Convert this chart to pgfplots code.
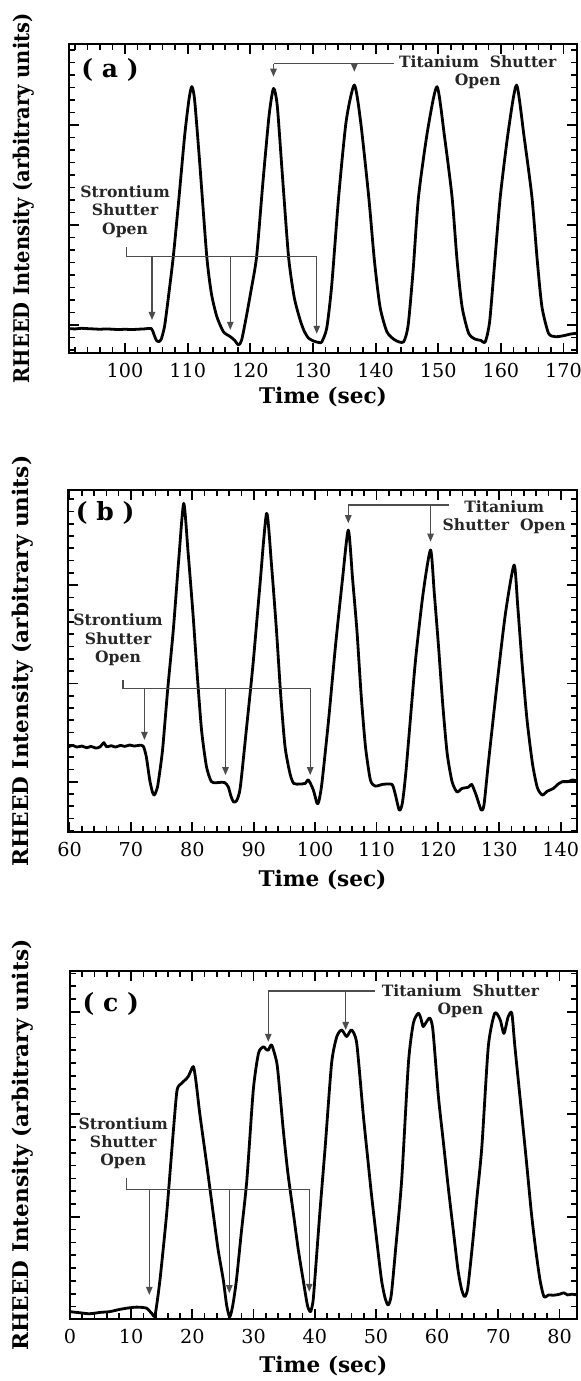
\documentclass[border=0pt]{standalone}
\usepackage{fontspec}
\setmainfont{DejaVu Serif}
\usepackage{pgfplots}
\pgfplotsset{compat=1.18}
\usetikzlibrary{arrows.meta}

\pgfplotsset{
  rheed/.style={
    scale only axis, clip=false,
    ymin=0, ymax=1,
    axis line style={line width=1pt},
    tick align=inside, tick pos=both,
    major tick length=5pt, minor tick length=3pt,
    every major tick/.style={line width=0.9pt, black},
    every minor tick/.style={line width=0.85pt, black},
    minor x tick num=4,
    yticklabels={},
    xtick distance=10,
    extra y tick labels={},
    extra y tick style={major tick length=3pt, every major tick/.style={line width=0.85pt, black}},
    /pgf/number format/assume math mode=true,
    xticklabel style={font=\fontsize{9.6}{11}\selectfont, yshift=-1.5pt},
    xlabel={Time (sec)},
    ylabel={RHEED Intensity (arbitrary units)},
    label style={font=\fontsize{10.8}{12}\selectfont\bfseries},
    ylabel style={anchor=center},
    xlabel style={anchor=center},
  },
  curve/.style={black, line width=1.4pt, line join=round, smooth, tension=0.4},
}
\tikzset{
  anno/.style={draw=black!70, line width=0.65pt},
  arr/.style={anno, -{Triangle[length=4pt,width=3.2pt]}},
  note/.style={font=\fontsize{7.8}{9.2}\selectfont\bfseries, align=center, text=black!85, inner sep=0pt},
  panel/.style={font=\fontsize{12.5}{13}\selectfont\bfseries, inner sep=0pt},
}

\begin{document}
\begin{tikzpicture}
\path[use as bounding box] (0,0) rectangle (290pt,-690.5pt);

% ---------------- (a)
\begin{axis}[rheed,
  at={(34.65pt,-176.35pt)}, anchor=south west,
  width=253.7pt, height=154.35pt,
  xmin=91.1, xmax=172.1,
  ytick={0.09,0.414,0.738},
  extra y ticks={0.009,0.0495,0.1305,0.171,0.2115,0.252,0.2925,0.333,0.3735,0.4545,0.495,
    0.5355,0.576,0.6165,0.657,0.6975,0.7785,0.819,0.8595,0.9,0.9405,0.981},
  ylabel style={at={(axis description cs:-0.0897,0.5)}, xscale=0.9},
  xlabel style={at={(axis description cs:0.5,0)}, yshift=-22pt},
]
\addplot[curve] coordinates {
  (91.2,0.078) (92,0.077) (93,0.079) (94,0.078) (95,0.077) (96,0.076) (97,0.077)
  (98,0.076) (99,0.075) (100,0.076) (101,0.075) (102,0.076) (103,0.077) (104.2,0.078)
  (104.6,0.06) (105.0,0.04) (105.4,0.036) (105.8,0.045) (106.3,0.085)
  (106.8,0.16) (107.7,0.311) (108.6,0.50) (109.5,0.70) (110.2,0.82) (110.65,0.862)
  (111.1,0.82) (111.9,0.62) (113.05,0.311) (113.8,0.19) (114.65,0.117) (115.7,0.068)
  (116.8,0.052) (117.5,0.04) (118.1,0.025)
  (118.6,0.04) (119.3,0.11) (120.1,0.20) (121.0,0.311) (122,0.55) (123.0,0.77) (123.7,0.856)
  (124.3,0.80) (125.1,0.58) (126.1,0.311) (127.0,0.18) (127.95,0.106) (128.6,0.07)
  (129.3,0.047) (130.2,0.037) (131.0,0.033) (131.4,0.035)
  (132.2,0.08) (133.0,0.22) (134.1,0.505) (135.3,0.75) (136.6,0.867)
  (137.6,0.75) (138.9,0.505) (139.8,0.30) (140.7,0.149) (141.8,0.068) (143.1,0.041) (144.45,0.035)
  (145.2,0.09) (146.0,0.27) (146.85,0.505) (148.3,0.72) (149.8,0.862)
  (151.0,0.70) (152.2,0.505) (153.0,0.30) (153.8,0.149) (154.85,0.063) (155.9,0.044)
  (156.8,0.04) (157.5,0.035)
  (158.2,0.10) (159.0,0.29) (159.9,0.505) (161.2,0.72) (162.5,0.867)
  (163.7,0.70) (164.95,0.505) (165.8,0.30) (166.55,0.149) (167.6,0.063) (168.7,0.052)
  (170,0.055) (171,0.06) (172.1,0.063)
};
\node[panel] at (axis cs:97.6,0.916) {( a )};
\node[note] at (axis cs:100.0,0.457) {Strontium\\Shutter\\Open};
\draw[anno] (axis cs:100.2,0.343) -- (axis cs:100.2,0.311) -- (axis cs:130.6,0.311);
\draw[arr] (axis cs:104.3,0.311) -- (axis cs:104.3,0.106);
\draw[arr] (axis cs:116.8,0.311) -- (axis cs:116.8,0.074);
\draw[arr] (axis cs:130.6,0.311) -- (axis cs:130.6,0.061);
\draw[anno] (axis cs:123.7,0.936) -- (axis cs:142.9,0.936);
\draw[arr] (axis cs:123.7,0.936) -- (axis cs:123.7,0.894);
\draw[arr] (axis cs:136.6,0.936) -- (axis cs:136.6,0.91);
\node[note] at (axis cs:156.3,0.908) {Titanium\ \ Shutter\\Open};
\end{axis}

% ---------------- (b)
\begin{axis}[rheed,
  at={(34.15pt,-416.15pt)}, anchor=south west,
  width=254.2pt, height=171.15pt,
  xmin=59.8, xmax=142.6,
  ytick={0.148,0.435,0.722},
  extra y ticks={0.0045,0.0404,0.0763,0.1121,0.1839,0.2198,0.2556,0.2915,0.3274,0.3633,
    0.3991,0.4709,0.5068,0.5426,0.5785,0.6144,0.6503,0.6861,0.7579,0.7938,0.8296,0.8655,
    0.9014,0.9373,0.9731},
  ylabel style={at={(axis description cs:-0.0895,0.5)}},
  xlabel style={at={(axis description cs:0.5,0)}, yshift=-24pt},
]
\addplot[curve] coordinates {
  (59.8,0.250) (60.5,0.254) (61.2,0.249) (62,0.252) (62.8,0.247) (63.5,0.251) (64.3,0.246)
  (65,0.250) (65.6,0.262) (66,0.250) (66.8,0.253) (67.5,0.249) (68.3,0.254) (69,0.251)
  (69.8,0.255) (70.5,0.252) (71.3,0.254) (72.0,0.252)
  (72.5,0.221) (73.06,0.153) (73.5,0.118) (73.8,0.109) (74.3,0.13) (74.8,0.19) (75.2,0.25)
  (76.0,0.42) (76.9,0.591) (77.8,0.80) (78.6,0.961)
  (79.3,0.82) (80.1,0.64) (80.8,0.46) (81.5,0.299) (82.3,0.192) (83.1,0.148) (83.95,0.145)
  (84.6,0.146) (85.3,0.145) (85.85,0.133) (86.3,0.105) (86.7,0.089) (87.2,0.092)
  (87.8,0.13) (88.8,0.30) (89.9,0.494) (91.0,0.72) (92.1,0.932)
  (92.9,0.78) (93.7,0.591) (94.4,0.40) (95.1,0.25) (95.9,0.172) (96.5,0.143) (97.5,0.141)
  (98.4,0.143) (98.9,0.153) (99.7,0.124) (100.3,0.085) (100.6,0.09)
  (101.1,0.143) (102.2,0.33) (103.3,0.542) (104.4,0.73) (105.4,0.883)
  (106.1,0.74) (106.8,0.591) (107.5,0.40) (108.2,0.25) (109.0,0.153) (109.8,0.135) (111,0.14)
  (112.5,0.14) (113.0,0.115) (113.7,0.065) (114.2,0.085)
  (114.8,0.18) (116.3,0.494) (117.6,0.70) (118.8,0.825)
  (119.4,0.70) (120.1,0.542) (120.8,0.37) (121.5,0.231) (122.3,0.148) (123.1,0.118)
  (123.9,0.128) (125.0,0.132) (125.5,0.14) (126.2,0.11) (127.05,0.065) (127.5,0.08)
  (128.2,0.20) (129.7,0.445) (131.0,0.64) (132.4,0.781)
  (133.0,0.66) (133.7,0.494) (134.5,0.33) (135.4,0.20) (136.2,0.13) (137.0,0.109)
  (137.8,0.12) (138.8,0.128) (139.5,0.14) (140.3,0.148) (141.2,0.148) (141.9,0.153) (142.6,0.15)
};
\node[panel] at (axis cs:65.8,0.932) {( b )};
\node[note] at (axis cs:67.9,0.562) {Strontium\\Shutter\\Open};
\draw[anno] (axis cs:68.7,0.445) -- (axis cs:68.7,0.421) -- (axis cs:99.2,0.421);
\draw[arr] (axis cs:72.2,0.421) -- (axis cs:72.2,0.27);
\draw[arr] (axis cs:85.4,0.421) -- (axis cs:85.4,0.167);
\draw[arr] (axis cs:99.2,0.421) -- (axis cs:99.2,0.167);
\draw[anno] (axis cs:105.4,0.956) -- (axis cs:121.8,0.956);
\draw[arr] (axis cs:105.4,0.956) -- (axis cs:105.4,0.903);
\draw[arr] (axis cs:118.8,0.956) -- (axis cs:118.8,0.849);
\node[note] at (axis cs:130.8,0.92) {Titanium\\Shutter\ \ Open};
\end{axis}

% ---------------- (c)
\begin{axis}[rheed,
  at={(35pt,-659.65pt)}, anchor=south west,
  width=253.35pt, height=174.3pt,
  xmin=0, xmax=82.8,
  ytick={0,0.294,0.588,0.882},
  extra y ticks={0.0368,0.0735,0.1103,0.147,0.1838,0.2205,0.2573,0.3308,0.3675,0.4043,
    0.441,0.4778,0.5145,0.5513,0.6248,0.6615,0.6983,0.735,0.7718,0.8085,0.8453,0.9188,
    0.9555,0.9923},
  ylabel style={at={(axis description cs:-0.0928,0.5)}},
  xlabel style={at={(axis description cs:0.5,0)}, yshift=-23.5pt},
]
\addplot[curve] coordinates {
  (0,0.022) (1,0.02) (2,0.018) (3,0.016) (3.8,0.017) (5,0.02) (6.5,0.022) (8,0.028)
  (9.3,0.032) (10.9,0.035) (12.5,0.032) (13.35,0.017) (13.9,0.012)
  (14.7,0.113) (15.8,0.304) (16.9,0.543) (17.5,0.658) (18.25,0.677) (19.3,0.696) (20.15,0.725)
  (20.6,0.68) (21.2,0.591) (22.3,0.45) (23.4,0.304) (24.2,0.2) (25.05,0.113) (25.6,0.04)
  (26.1,0.007) (26.6,0.04)
  (27.2,0.113) (28.0,0.25) (28.9,0.4) (29.95,0.658) (30.8,0.763) (31.6,0.782) (32.0,0.775)
  (32.4,0.772) (32.95,0.787)
  (33.8,0.735) (34.3,0.65) (34.85,0.543) (35.6,0.42) (36.5,0.304) (37.3,0.2) (38.1,0.113)
  (38.8,0.04) (39.3,0.022) (39.7,0.05)
  (40.0,0.113) (40.8,0.3) (41.7,0.495) (42.75,0.735) (43.6,0.811) (44.4,0.83) (45.2,0.811)
  (46.0,0.83) (46.85,0.792)
  (47.9,0.591) (48.6,0.47) (49.3,0.352) (50.1,0.23) (50.9,0.113) (51.5,0.06) (52.0,0.041) (52.5,0.07)
  (53.2,0.2) (54.2,0.4) (55.3,0.735) (56.1,0.849) (56.9,0.878) (57.3,0.865) (57.7,0.84)
  (58.2,0.852) (58.8,0.864) (59.3,0.83)
  (60.2,0.639) (61.0,0.51) (61.8,0.38) (62.6,0.26) (63.4,0.142) (64.0,0.085) (64.5,0.065) (65.0,0.09)
  (65.8,0.22) (66.5,0.35) (67.3,0.495) (68.35,0.782) (69.4,0.878) (70.3,0.859) (70.9,0.82)
  (71.6,0.868) (72.2,0.878) (72.7,0.782)
  (73.8,0.591) (74.6,0.45) (75.4,0.304) (76.1,0.2) (76.8,0.113) (77.45,0.065) (78.2,0.07)
  (79,0.069) (80,0.072) (80.7,0.076) (81.3,0.07) (82,0.072) (82.8,0.07)
};
\node[panel] at (axis cs:6.65,0.906) {( c )};
\node[note] at (axis cs:8.7,0.505) {Strontium\\Shutter\\Open};
\draw[anno] (axis cs:9.26,0.404) -- (axis cs:9.26,0.373) -- (axis cs:39.1,0.373);
\draw[arr] (axis cs:12.96,0.373) -- (axis cs:12.96,0.07);
\draw[arr] (axis cs:26.03,0.373) -- (axis cs:26.03,0.075);
\draw[arr] (axis cs:39.1,0.373) -- (axis cs:39.1,0.079);
\draw[anno] (axis cs:32.4,0.942) -- (axis cs:49.8,0.942);
\draw[arr] (axis cs:32.4,0.942) -- (axis cs:32.4,0.796);
\draw[arr] (axis cs:45.05,0.942) -- (axis cs:45.05,0.83);
\node[note] at (axis cs:63.8,0.913) {Titanium\ \ Shutter\\Open};
\end{axis}
\end{tikzpicture}
\end{document}
